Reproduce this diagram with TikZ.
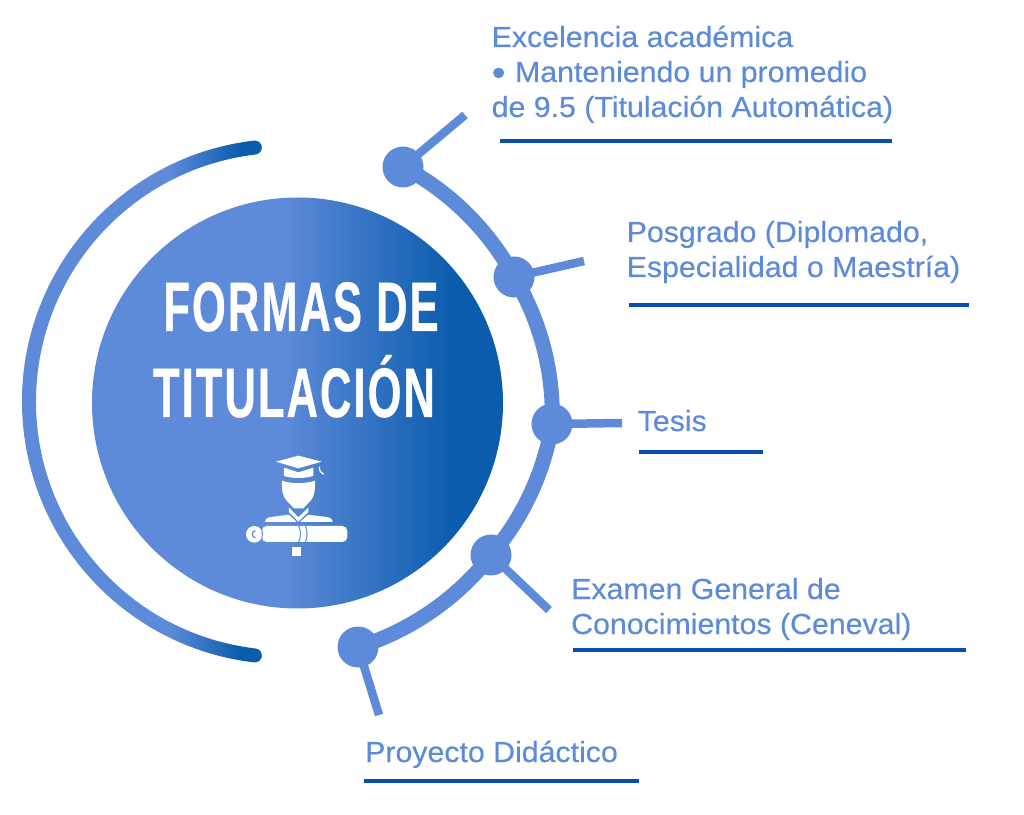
\documentclass[tikz,border=0pt]{standalone}
\usepackage{fontspec}
\setmainfont{Liberation Sans}
\newfontfamily\fuentetitulo[FakeStretch=0.62,LetterSpace=3,FakeBold=0.5]{Liberation Sans Bold}
\newfontfamily\fuenteetiqueta[FakeStretch=1.045,FakeBold=0.35]{Liberation Sans}
\usepackage{tikz}
\definecolor{azulclaro}{HTML}{5E8BD9}
\definecolor{azuloscuro}{HTML}{0B5CAD}
\definecolor{azulregla}{HTML}{0A4DB0}
\pgfdeclarehorizontalshading{degradado}{100bp}{color(0bp)=(azulclaro); color(48bp)=(azulclaro); color(69bp)=(azuloscuro); color(100bp)=(azuloscuro)}
\pgfdeclarehorizontalshading{degradadoarco}{100bp}{color(0bp)=(azulclaro); color(54bp)=(azulclaro); color(67bp)=(azuloscuro); color(100bp)=(azuloscuro)}

\begin{document}
\begin{tikzpicture}[x=1pt, y=1pt, inner sep=0pt, bend angle=17]
				\tikzstyle{punto}=[circle, fill=azulclaro, minimum size=41pt]
				\tikzstyle{arco}=[draw=azulclaro, line width=15pt]
				\tikzstyle{rayo}=[draw=azulclaro, line width=8.5pt]
				\tikzstyle{regla}=[draw=azulregla, line width=4.5pt]
				\tikzstyle{etiqueta}=[anchor=base west, align=left, text=azulclaro, font=\fontsize{29}{35}\fuenteetiqueta]
				\tikzstyle{titulo}=[anchor=base, text=white, font=\fontsize{70}{70}\fuentetitulo]
				\useasboundingbox (0,0) rectangle (1024,814);

				%CIRCULO
				\shade[shading=degradado] (297.5,411) circle (205.5);
				\node[titulo]	(titulo1) at (301,483)	{FORMAS DE};
				\node[titulo]	(titulo2) at (294,397)	{TITULACIÓN};

				%ARCO IZQUIERDO
				\shade[shading=degradadoarco] (284.7,412.5) ++(96.7:262.7)
					arc[start angle=96.7, end angle=263.3, radius=262.7]
					arc[start angle=263.3, end angle=443.3, radius=7]
					arc[start angle=263.3, end angle=96.7, radius=248.7]
					arc[start angle=276.7, end angle=456.7, radius=7] -- cycle;

				%ICONO
				\begin{scope}[shift={(220,374)}, x=0.3333pt, y=-0.3333pt, fill=white]
					\fill (168,65) -- (235,47) -- (305,65) -- (235,85) -- cycle;
					\fill (192,83) -- (235,97) -- (280,83) -- (280,108) .. controls (250,116) and (220,116) .. (192,108) -- cycle;
					\draw[white, line width=1.2pt] (298,80) .. controls (298,92) and (302,100) .. (311,103);
					\fill (186,122) .. controls (215,132) and (255,132) .. (285,122) .. controls (286,150) and (283,170) .. (272,182) -- (250,205) -- (222,205) -- (200,182) .. controls (188,170) and (185,150) .. (186,122) -- cycle;
					\fill (207,203) -- (235,232) -- (265,203) -- (265,216) -- (235,245) -- (207,216) -- cycle;
					\fill (135,246) .. controls (136,235) and (145,231) .. (160,230) -- (207,224) -- (230,246) -- cycle;
					\fill (240,246) -- (264,224) -- (312,230) .. controls (328,231) and (337,235) .. (338,246) -- cycle;
					\fill[rounded corners=5pt] (125,258) rectangle (382,306);
					\fill (103,283) circle (25);
					\draw[azulclaro, line width=1.2pt] (106,272) .. controls (94,276) and (94,290) .. (106,294);
					\draw[azulclaro, line width=1pt] (120,258) .. controls (130,272) and (130,292) .. (120,308);
					\draw[azulclaro, line width=1pt] (236,258) .. controls (243,272) and (243,292) .. (236,306);
					\draw[azulclaro, line width=1pt] (256,258) .. controls (263,272) and (263,292) .. (256,306);
					\fill (215,322) rectangle (242,348);
				\end{scope}

				%PUNTOS
				\node[punto]	(p1) at (403,647)	{};
				\node[punto]	(p2) at (514,537)	{};
				\node[punto]	(p3) at (552,390)	{};
				\node[punto]	(p4) at (491,259)	{};
				\node[punto]	(p5) at (358,167)	{};

				\coordinate (f1) at (465,699);
				\coordinate (f2) at (584,553);
				\coordinate (f3) at (622,391);
				\coordinate (f4) at (549,204);
				\coordinate (f5) at (379,99);

				%UNIONES
				\draw[arco]
					(p1.center)	to [bend left=17.5, looseness=0.85]	(p2.center)
					(p2.center)	to [bend left=17, looseness=0.85]	(p3.center)
					(p3.center)	to [bend left=16, looseness=0.85]	(p4.center)
					(p4.center)	to [bend left=18, looseness=0.85]	(p5.center);
				\draw[rayo]
					(p1.center)	-- (f1)
					(p2.center)	-- (f2)
					(p3.center)	-- (f3)
					(p4.center)	-- (f4)
					(p5.center)	-- (f5);

				%ETIQUETAS
				\node[etiqueta]	(e1a) at (491.5,767)	{Excelencia académica};
				\node[etiqueta]	(e1b) at (491.5,732)	{\raisebox{-3.5pt}{\fontsize{38}{35}\selectfont •}\kern1pt{} Manteniendo un promedio};
				\node[etiqueta]	(e1c) at (491.5,697)	{de 9.5 (Titulación Automática)};
				\node[etiqueta]	(e2a) at (626.5,572)	{Posgrado (Diplomado,};
				\node[etiqueta]	(e2b) at (626.5,537)	{Especialidad o Maestría)};
				\node[etiqueta]	(e3) at (637.5,383)	{Tesis};
				\node[etiqueta]	(e4a) at (571,215)	{Examen General de};
				\node[etiqueta]	(e4b) at (571,180)	{Conocimientos (Ceneval)};
				\node[etiqueta]	(e5) at (365,52)	{Proyecto Didáctico};

				%REGLAS
				\coordinate (r1i) at (500,673);	\coordinate (r1f) at (892,673);
				\coordinate (r2i) at (629,509);	\coordinate (r2f) at (969,509);
				\coordinate (r3i) at (639,362);	\coordinate (r3f) at (763,362);
				\coordinate (r4i) at (573,164);	\coordinate (r4f) at (966,164);
				\coordinate (r5i) at (364,33);	\coordinate (r5f) at (639,33);
				\draw[regla]
					(r1i)	-- (r1f)
					(r2i)	-- (r2f)
					(r3i)	-- (r3f)
					(r4i)	-- (r4f)
					(r5i)	-- (r5f);
\end{tikzpicture}
\end{document}
